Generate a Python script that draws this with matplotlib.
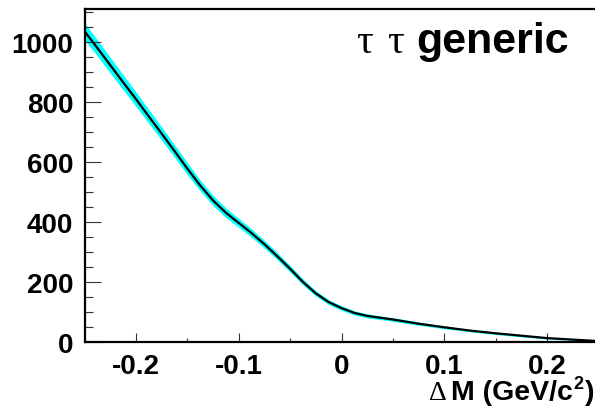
import numpy as np
import matplotlib
matplotlib.use("Agg")
import matplotlib.pyplot as plt
from matplotlib.ticker import MultipleLocator

# mass difference (GeV/c^2) and fitted shape with its uncertainty band
dm = [-0.25, -0.2375, -0.225, -0.2125, -0.2, -0.1875, -0.175, -0.1625,
      -0.15, -0.1375, -0.125, -0.1125, -0.1, -0.0875, -0.075, -0.0625,
      -0.05, -0.0375, -0.025, -0.0125, 0.0, 0.0125, 0.025, 0.0375,
      0.05, 0.0625, 0.075, 0.0875, 0.1, 0.125, 0.15, 0.175, 0.2, 0.225, 0.25]
shape = [1036, 980, 923, 866, 810, 752, 695, 637,
         578, 522, 472, 431, 397, 363, 326, 286,
         244, 200, 162, 133, 113, 97, 87, 81,
         75, 68, 61, 55, 49, 38, 29, 21, 13, 8, 3]
err = [28, 27, 26, 25, 24, 23, 22, 21,
       20, 18, 17, 16, 15, 14, 13, 12,
       11, 10, 9, 8, 8, 7, 7, 6,
       6, 6, 5, 5, 5, 4, 4, 4, 3, 3, 3]

W, H = 595, 410
fig = plt.figure(figsize=(W / 100, H / 100), dpi=100)
# axes frame in pixels: x 84.5 -> 598.5, y 10 -> 343
ax = fig.add_axes([84.5 / W, 1 - 343 / H, 514 / W, 333 / H])

x = np.array(dm)
y = np.array(shape)
e = np.array(err)
ax.fill_between(x, y - e, y + e, color="#00ffff", lw=0)
ax.plot(x, y, color="black", lw=1.6, solid_joinstyle="round")

ax.set_xlim(-0.25, 0.25)
ax.set_ylim(0, 1110)

ax.xaxis.set_minor_locator(MultipleLocator(0.05))
ax.yaxis.set_major_locator(MultipleLocator(200))
ax.yaxis.set_minor_locator(MultipleLocator(50))
ax.set_xticks([-0.2, -0.1, 0, 0.1, 0.2])
ax.set_xticklabels(["-0.2", "-0.1", "0", "0.1", "0.2"])

for lab in ax.get_xticklabels() + ax.get_yticklabels():
    lab.set_fontfamily("Liberation Sans")
    lab.set_fontweight("bold")
    lab.set_fontsize(20)

ax.tick_params(axis="y", which="major", direction="in", length=11.5,
               width=0.8, pad=8, color="#333333")
ax.tick_params(axis="y", which="minor", direction="in", length=5.8,
               width=0.8, color="#333333")
ax.tick_params(axis="x", which="major", direction="in", length=6.5,
               width=0.8, pad=8, color="#333333")
ax.tick_params(axis="x", which="minor", direction="in", length=3.2,
               width=0.8, color="#333333")

for side in ["left", "bottom", "top"]:
    ax.spines[side].set_linewidth(1.6)
ax.spines["right"].set_visible(False)

def px(xp, yp):
    return xp / W, 1 - yp / H

# sample label in the upper right
fig.text(*px(356, 53), "τ", fontfamily="Liberation Serif", fontsize=30,
         va="baseline", ha="left")
fig.text(*px(387, 53), "τ", fontfamily="Liberation Serif", fontsize=30,
         va="baseline", ha="left")
fig.text(*px(416, 53), "generic", fontfamily="Liberation Sans",
         fontweight="bold", fontsize=31, va="baseline", ha="left")

# x-axis title pieces
fig.text(*px(429, 400), "Δ", fontfamily="Liberation Serif", fontsize=20,
         va="baseline", ha="left")
fig.text(*px(451, 400), "M (GeV/c", fontfamily="Liberation Sans",
         fontweight="bold", fontsize=20.5, va="baseline", ha="left")
fig.text(*px(573.5, 389), "2", fontfamily="Liberation Sans",
         fontweight="bold", fontsize=13, va="baseline", ha="left")
fig.text(*px(585, 400), ")", fontfamily="Liberation Sans",
         fontweight="bold", fontsize=20.5, va="baseline", ha="left")

fig.savefig("out.png", dpi=100)
